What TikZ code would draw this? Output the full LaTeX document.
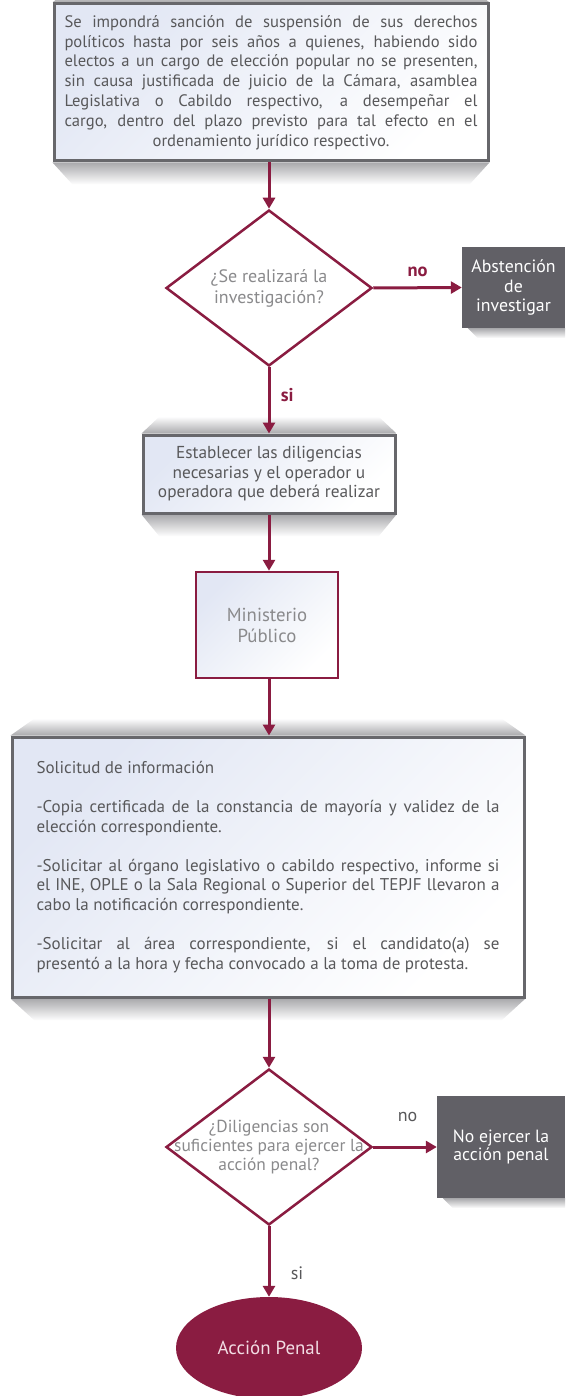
\documentclass[tikz,border=0pt]{standalone}
\usepackage{fontspec}
\setmainfont{PT Sans}
\usetikzlibrary{shapes.geometric,arrows.meta,calc}
\definecolor{maroon}{HTML}{8A1C41}
\definecolor{bordergray}{HTML}{67676B}
\definecolor{darkbox}{HTML}{616066}
\definecolor{lightblue}{HTML}{E2E7F4}
\definecolor{textgray}{HTML}{58585A}
\definecolor{softgray}{HTML}{8A8A8C}
\definecolor{shadowgray}{HTML}{A9A9AC}
\definecolor{pinkwhite}{HTML}{F2DDE4}
\newcommand{\jst}[2]{\makebox[#1][s]{#2}}
\newcommand{\lft}[2]{\makebox[#1][l]{#2}}
\pgfdeclarelayer{bg}
\pgfsetlayers{bg,main}
\tikzset{
  graybox/.style={rectangle, draw=bordergray, line width=3pt, inner sep=0pt,
    top color=lightblue, bottom color=white, shading angle=45, text=textgray},
  redbox/.style={rectangle, draw=maroon, line width=2.5pt, inner sep=0pt,
    top color=lightblue, bottom color=white, shading angle=45, text=softgray},
  darkbox/.style={rectangle, fill=darkbox, inner sep=0pt, text=white, align=center,
    font=\fontsize{17.8}{19.5}\selectfont},
  dia/.style={diamond, draw=maroon, line width=2.5pt, fill=white, inner sep=0pt,
    minimum width=206pt, minimum height=156pt},
  dtext/.style={text=softgray, align=center, font=\fontsize{18}{21}\selectfont},
  arr/.style={draw=maroon, line width=3pt, -{Triangle[length=11pt,width=12pt]}},
  lbold/.style={text=maroon, font=\bfseries\fontsize{18.5}{20}\selectfont},
  lplain/.style={text=textgray, font=\fontsize{18}{20}\selectfont},
}
\begin{document}
\begin{tikzpicture}[x=1pt,y=-1pt]
\useasboundingbox (0,0) rectangle (565,1396);

% top box
\node[graybox, minimum width=434pt, minimum height=157pt, align=left,
  font=\fontsize{16.6}{19.8}\selectfont] (b1) at (271,82.5) {%
\jst{413pt}{Se impondrá sanción de suspensión de sus derechos}\\
\jst{413pt}{políticos hasta por seis años a quienes, habiendo sido}\\
\jst{413pt}{electos a un cargo de elección popular no se presenten,}\\
\jst{413pt}{sin causa justificada de juicio de la Cámara, asamblea}\\
\jst{413pt}{Legislativa o Cabildo respectivo, a desempeñar el}\\
\jst{413pt}{cargo, dentro del plazo previsto para tal efecto en el}\\
\makebox[413pt][c]{ordenamiento jurídico respectivo.}};

% decision 1
\node[dia, label={[dtext]center:{¿Se realizará la\\investigación?}}] (d1) at (269,288) {};
\node[darkbox, minimum width=103pt, minimum height=81pt] (ab) at (513.5,287.5) {Abstención\\de\\investigar};

% box 2
\node[graybox, minimum width=252pt, minimum height=78pt, align=center,
  font=\fontsize{17.3}{19.5}\selectfont] (b2) at (269,474) {Establecer las diligencias\\necesarias y el operador u\\operadora que deberá realizar};

% Ministerio
\node[redbox, minimum width=142pt, minimum height=106pt, align=center,
  font=\fontsize{18.8}{21}\selectfont] (mp) at (267,625) {Ministerio\\Público};

% box 3
\node[graybox, minimum width=512pt, minimum height=260pt, align=left,
  font=\fontsize{17}{19.6}\selectfont] (b3) at (268,867) {%
\lft{463pt}{Solicitud de información}\\[19.6pt]
\jst{463pt}{-Copia certificada de la constancia de mayoría y validez de la}\\
\lft{463pt}{elección correspondiente.}\\[19.6pt]
\jst{463pt}{-Solicitar al órgano legislativo o cabildo respectivo, informe si}\\
\jst{463pt}{el INE, OPLE o la Sala Regional o Superior del TEPJF llevaron a}\\
\lft{463pt}{cabo la notificación correspondiente.}\\[19.6pt]
\jst{463pt}{-Solicitar al área correspondiente, si el candidato(a) se}\\
\lft{463pt}{presentó a la hora y fecha convocado a la toma de protesta.}};

% decision 2
\node[dia, label={[dtext, font=\fontsize{17.4}{19}\selectfont]center:{¿Diligencias son\\suficientes para ejercer la\\acción penal?}}] (d2) at (269,1147) {};
\node[darkbox, minimum width=128pt, minimum height=102pt, font=\fontsize{17.7}{18.5}\selectfont] (ne) at (501,1147) {No ejercer la\\acción penal};

% final
\node[ellipse, fill=maroon, inner sep=0pt, minimum width=186pt, minimum height=102pt,
  text=pinkwhite, font=\fontsize{18.9}{20}\selectfont] (ap) at (269,1348) {Acción Penal};

% shadows
\begin{pgfonlayer}{bg}
\foreach \n/\d in {b1/20,b2/18,b3/24}{
  \shade[top color=shadowgray, bottom color=white]
    (\n.south west) -- (\n.south east) -- ($(\n.south east)+(-\d,22)$) -- ($(\n.south west)+(\d,22)$) -- cycle;
  \shade[top color=white, bottom color=shadowgray]
    (\n.north west) -- (\n.north east) -- ($(\n.north east)+(-\d,-17)$) -- ($(\n.north west)+(\d,-17)$) -- cycle;
}
\foreach \n in {ab,ne}{
  \shade[top color=shadowgray, bottom color=white]
    ($(\n.south west)+(6,0)$) -- (\n.south east) -- ($(\n.south east)+(0,10)$) -- ($(\n.south west)+(16,10)$) -- cycle;
}
\end{pgfonlayer}

% connectors
\draw[arr] (d1.north |- b1.south) -- (d1.north);
\draw[arr] (d1.east) -- node[lbold, pos=0.5, yshift=16pt] (no1) {no} (ab.west);
\draw[arr] (d1.south) -- node[lbold, pos=0.42, anchor=west, xshift=7pt] (si1) {si} (b2.north);
\draw[arr] (b2.south) -- (b2.south |- mp.north);
\draw[arr] (mp.south -| b2.south) -- (b3.north -| b2.south);
\draw[arr] (b3.south -| d2.north) -- (d2.north);
\draw[arr] (d2.east) -- node[lplain, pos=0.54, yshift=30pt] (no2) {no} (ne.west);
\draw[arr] (d2.south) -- node[lplain, pos=0.66, anchor=west, xshift=17pt] (si2) {si} (ap.north);
\end{tikzpicture}
\end{document}
